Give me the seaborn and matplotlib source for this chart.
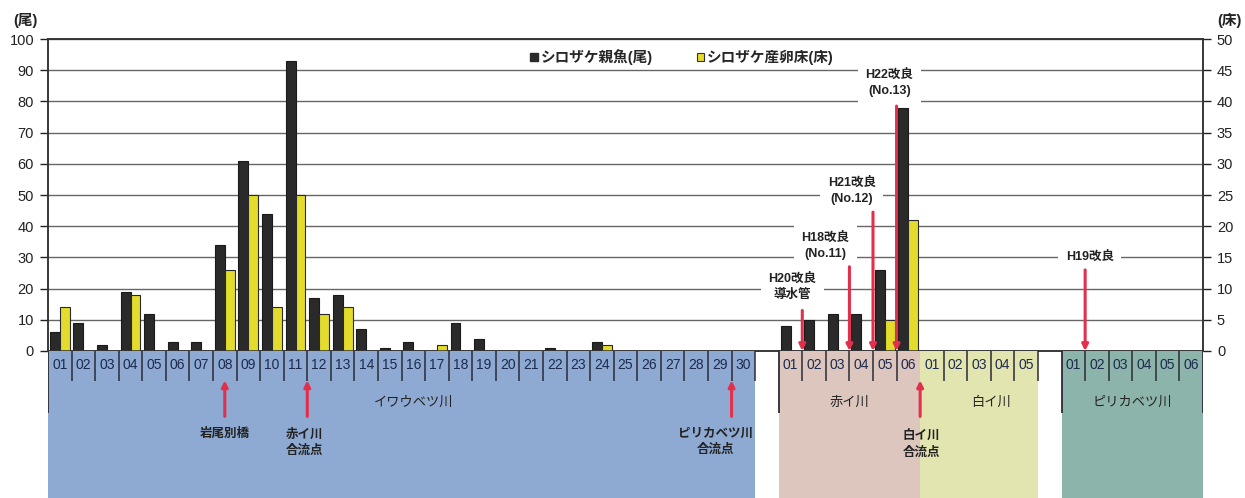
import numpy as np
import pandas as pd
import matplotlib
matplotlib.use("Agg")
import matplotlib.pyplot as plt
from matplotlib.patches import Patch
import seaborn as sns

# ---- data -------------------------------------------------------------
rivers = ["イワウベツ川", "赤イ川", "白イ川", "ピリカベツ川"]

iwaubetsu_sections = ["01", "02", "03", "04", "05", "06", "07", "08", "09", "10",
                      "11", "12", "13", "14", "15", "16", "17", "18", "19", "20",
                      "21", "22", "23", "24", "25", "26", "27", "28", "29", "30"]
akai_sections = ["01", "02", "03", "04", "05", "06"]
shirai_sections = ["01", "02", "03", "04", "05"]
pirika_sections = ["01", "02", "03", "04", "05", "06"]

# spawning adults (尾)
iwaubetsu_fish = [6, 9, 2, 19, 12, 3, 3, 34, 61, 44,
                  93, 17, 18, 7, 1, 3, 0, 9, 4, 0,
                  0, 1, 0, 3, 0, 0, 0, 0, 0, 0]
akai_fish = [8, 10, 12, 12, 26, 78]
shirai_fish = [0, 0, 0, 0, 0]
pirika_fish = [0, 0, 0, 0, 0, 0]

# redds (床)
iwaubetsu_redds = [7, 0, 0, 9, 0, 0, 0, 13, 25, 7,
                   25, 6, 7, 0, 0, 0, 1, 0, 0, 0,
                   0, 0, 0, 1, 0, 0, 0, 0, 0, 0]
akai_redds = [0, 0, 0, 0, 5, 21]
shirai_redds = [0, 0, 0, 0, 0]
pirika_redds = [0, 0, 0, 0, 0, 0]

fish_label = "シロザケ親魚(尾)"
redd_label = "シロザケ産卵床(床)"

# first slot of each river on the shared x scale (one empty slot between some rivers)
river_start = [0, 31, 37, 43]
n_slots = 49

sections = [iwaubetsu_sections, akai_sections, shirai_sections, pirika_sections]
fish = [iwaubetsu_fish, akai_fish, shirai_fish, pirika_fish]
redds = [iwaubetsu_redds, akai_redds, shirai_redds, pirika_redds]

rows = []
for river, start, secs, fvals, rvals in zip(rivers, river_start, sections, fish, redds):
    for k, (s, f, r) in enumerate(zip(secs, fvals, rvals)):
        rows.append(dict(river=river, section=s, slot=start + k, fish=f, redds=r))
df = pd.DataFrame(rows)

# fishway improvements: (label, slot boundary, arrow top in 尾, label x, label y)
improvements = [
    ("H20改良\n導水管", 32, 13, 31.57, 20.5),
    ("H18改良\n(No.11)", 34, 27, 32.97, 33.7),
    ("H21改良\n(No.12)", 35, 44.5, 34.1, 51.3),
    ("H22改良\n(No.13)", 36, 78.5, 35.7, 85.9),
    ("H19改良", 44, 26, 44.2, 30.1),
]
# points along the rivers: (label, slot position, label x, label y in band units)
landmarks = [
    ("岩尾別橋", 7.5, 7.5, 0.435),
    ("赤イ川\n合流点", 11, 10.9, 0.377),
    ("ピリカベツ川\n合流点", 29, 28.3, 0.38),
    ("白イ川\n合流点", 37, 37.05, 0.364),
]
river_label_x = [15.5, 34, 40, 46]

# ---- style ------------------------------------------------------------
sns.set_theme(style="white")
plt.rcParams["font.family"] = ["Liberation Sans", "Noto Sans CJK JP"]
FAM = ["Liberation Sans", "Noto Sans CJK JP"]

black = "#2a2a2a"
yellow = "#e3dc2c"
red = "#e2304c"
band_colors = ["#8eaad2", "#dcc6be", "#e3e5b1", "#8db4aa"]
grid_c = "#666666"
ink = "#222222"

fig = plt.figure(figsize=(12.45, 4.98), dpi=100)
W, H = 1245, 498
ax = fig.add_axes([48 / W, 1 - 351 / H, 1155 / W, 312 / H])
ax2 = ax.twinx()
band = fig.add_axes([48 / W, 0, 1155 / W, 1 - 351 / H])

# ---- bars -------------------------------------------------------------
sns.barplot(data=df.assign(xpos=df["slot"] + 0.29), x="xpos", y="fish",
            native_scale=True, width=0.42, color=black, saturation=1,
            edgecolor="#1a1a1a", linewidth=0.8, errorbar=None, orient="x", ax=ax)
sns.barplot(data=df.assign(xpos=df["slot"] + 0.71), x="xpos", y="redds",
            native_scale=True, width=0.42, color=yellow, saturation=1,
            edgecolor="#2a2a2a", linewidth=0.8, errorbar=None, orient="x", ax=ax2)

for a in (ax, ax2):
    a.set_xlim(0, n_slots)
    a.set_xlabel("")
    a.set_ylabel("")
    a.set_xticks([])
ax.set_ylim(0, 100)
ax.set_yticks(range(0, 101, 10))
ax2.set_ylim(0, 50)
ax2.set_yticks(range(0, 51, 5))
ax.set_axisbelow(True)
ax.yaxis.grid(True, color=grid_c, lw=1.0)
ax2.grid(False)
for a in (ax, ax2):
    a.tick_params(axis="y", direction="out", length=6, width=1, pad=4,
                  labelsize=10.5, colors=ink)
    for s in a.spines.values():
        s.set_color("#333333")
        s.set_linewidth(1.1)

fig.text(25 / W, 1 - 20 / H, "(尾)", ha="center", va="center", fontsize=10.5,
         fontweight="bold", color=ink, family=FAM)
fig.text(1229 / W, 1 - 20 / H, "(床)", ha="center", va="center", fontsize=10.5,
         fontweight="bold", color=ink, family=FAM)

# ---- legend -----------------------------------------------------------
handles = [Patch(facecolor=black, edgecolor=black),
           Patch(facecolor=yellow, edgecolor="#333333", linewidth=0.8)]
fig.legend(handles, [fish_label, redd_label], loc="center",
           bbox_to_anchor=(682 / W, 1 - 57 / H), ncol=2, frameon=False,
           handlelength=0.5, handleheight=0.5, handletextpad=0.2,
           columnspacing=3.0, borderpad=0,
           prop={"family": FAM, "weight": "bold", "size": 10.5})

# ---- improvement labels and arrows ------------------------------------
for text, xb, top, lx, ly in improvements:
    ax2.text(lx, ly, text, transform=ax.transData, ha="center", va="center",
             fontsize=9, fontweight="bold", color=ink, family=FAM, linespacing=1.45,
             bbox=dict(boxstyle="square,pad=0.6", fc="white", ec="none"), zorder=5)
    ax2.annotate("", xy=(xb, 0), xytext=(xb, top), xycoords=ax.transData,
                 textcoords=ax.transData, zorder=6,
                 arrowprops=dict(arrowstyle="-|>", color=red, lw=2.2,
                                 mutation_scale=9, shrinkA=0, shrinkB=0))

# ---- river band -------------------------------------------------------
band.set_xlim(0, n_slots)
band.set_ylim(0, 1)
band.axis("off")
for start, secs, col, name, lxr in zip(river_start, sections, band_colors, rivers, river_label_x):
    end = start + len(secs)
    band.axvspan(start, end, ymin=0, ymax=1, color=col, lw=0)
    for k, s in enumerate(secs):
        band.text(start + k + 0.5, 0.905, s, ha="center", va="center",
                  fontsize=10, color="#1d2a4d", family=FAM)
    band.vlines(np.arange(start + 1, end), 0.796, 1, color="#2b2b35", lw=1.1)
    band.text(lxr, 0.646, name, ha="center", va="center", fontsize=9.5,
              color=ink, family=FAM)

long_edges = [0, 31, 43, 49]
short_edges = [30, 42]
band.vlines(long_edges, 0.578, 1, color="#2b2b35", lw=1.3)
band.vlines(short_edges, 0.796, 1, color="#2b2b35", lw=1.1)

for text, xa, lx, ly in landmarks:
    band.annotate("", xy=(xa, 0.80), xytext=(xa, 0.555),
                  arrowprops=dict(arrowstyle="-|>", color=red, lw=2.2,
                                  mutation_scale=9, shrinkA=0, shrinkB=0))
    band.text(lx, ly, text, ha="center", va="center", fontsize=9,
              fontweight="bold", color=ink, family=FAM, linespacing=1.45)

fig.savefig("out.png", dpi=100)
